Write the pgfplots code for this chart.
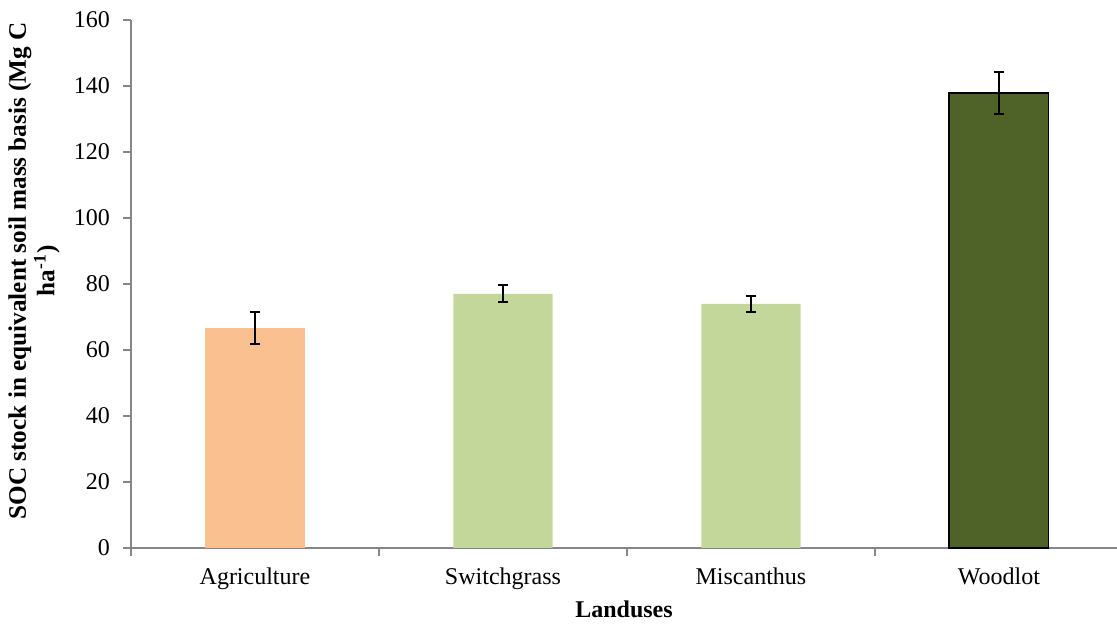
\documentclass[border=0pt]{standalone}
\usepackage{fontspec}
\setmainfont{Liberation Serif}
\usepackage{pgfplots}
\pgfplotsset{compat=1.18}
\definecolor{agri}{HTML}{FAC090}
\definecolor{lgreen}{HTML}{C4D79B}
\definecolor{dgreen}{HTML}{4F6228}
\definecolor{axgray}{HTML}{868686}
\begin{document}
\begin{tikzpicture}
\begin{axis}[
  scale only axis,
  width=493pt, height=264pt,
  xmin=-0.5, xmax=3.476,
  ymin=0, ymax=160,
  ytick={0,20,...,160},
  xtick={0,1,2,3},
  xticklabels={Agriculture,Switchgrass,Miscanthus,Woodlot},
  minor xtick={-0.5,0.5,1.5,2.5},
  major x tick style={draw=none},
  tick align=outside,
  tick pos=left,
  major tick length=4pt,
  minor tick length=4pt,
  every tick/.style={axgray, line width=0.8pt},
  minor x tick style={axgray, line width=0.8pt},
  axis lines*=left,
  axis line style={axgray, line width=0.8pt},
  font=\fontsize{12}{14.5}\selectfont,
  /pgf/number format/assume math mode=true,
  yticklabel style={font=\fontsize{12}{14.5}\selectfont, xshift=-3pt},
  xticklabel style={font=\fontsize{12}{14.5}\selectfont, yshift=-2.5pt},
  xlabel={Landuses},
  xlabel style={at={(axis description cs:0.5,0)}, anchor=north, yshift=-26pt, inner sep=0pt, font=\fontsize{12}{14.5}\selectfont\bfseries},
  ylabel={SOC stock in equivalent soil mass basis (Mg C\\ha\textsuperscript{-1})},
  every axis y label/.style={at={(axis description cs:-0.1247,0.525)}, rotate=90, anchor=north, inner sep=0pt, align=center, font=\fontsize{12.6}{14.2}\selectfont\bfseries},
  ybar,
  bar width=0.4,
  clip=false,
]
\addplot[fill=agri, draw=none, bar shift=0pt,
  error bars/.cd, y dir=both, y explicit,
  error bar style={black, line width=1pt},
  error mark options={rotate=90, mark size=2.6pt, line width=1pt, black}]
  coordinates {(0,66.6) +- (0,4.9)};
\addplot[fill=lgreen, draw=none, bar shift=0pt,
  error bars/.cd, y dir=both, y explicit,
  error bar style={black, line width=1pt},
  error mark options={rotate=90, mark size=2.6pt, line width=1pt, black}]
  coordinates {(1,77.0) +- (0,2.6) (2,74.0) +- (0,2.4)};
\addplot[fill=dgreen, draw=black, line width=0.9pt, bar shift=0pt,
  error bars/.cd, y dir=both, y explicit,
  error bar style={black, line width=1pt},
  error mark options={rotate=90, mark size=2.6pt, line width=1pt, black}]
  coordinates {(3,137.9) +- (0,6.4)};
\end{axis}
\pgfresetboundingbox
\useasboundingbox ([xshift=-65.5pt,yshift=-38.5pt]current axis.south west) rectangle ([yshift=10pt]current axis.north east);
\end{tikzpicture}
\end{document}
